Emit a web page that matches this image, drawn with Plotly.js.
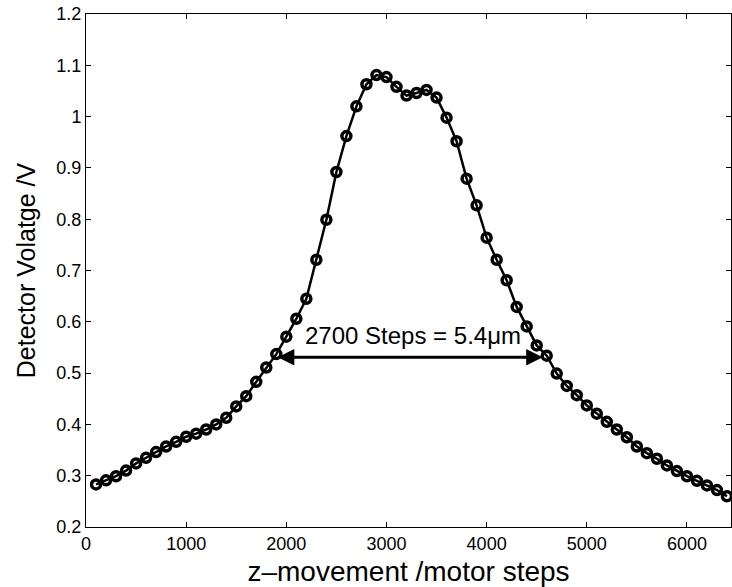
<!DOCTYPE html>
<html>
<head>
<meta charset="utf-8">
<script src="https://cdn.plot.ly/plotly-3.0.1.min.js"></script>
<style>html,body{margin:0;padding:0;background:#fff;}#chart{width:732px;height:587px;}</style>
</head>
<body>
<div id="chart"></div>
<script>
// z-movement (motor steps)
const zSteps = [100,200,300,400,500,600,700,800,900,1000,1100,1200,1300,1400,1500,1600,1700,1800,1900,2000,
  2100,2200,2300,2400,2500,2600,2700,2800,2900,3000,3100,3200,3300,3400,3500,3600,3700,3800,3900,4000,
  4100,4200,4300,4400,4500,4600,4700,4800,4900,5000,5100,5200,5300,5400,5500,5600,5700,5800,5900,6000,
  6100,6200,6300,6400];
// Detector voltage (V)
const voltage = [0.283,0.291,0.299,0.310,0.324,0.335,0.346,0.357,0.366,0.376,0.382,0.390,0.400,0.413,0.435,0.455,0.483,0.511,0.537,0.571,
  0.606,0.645,0.721,0.799,0.892,0.962,1.020,1.063,1.081,1.077,1.058,1.041,1.046,1.052,1.037,0.998,0.952,0.879,0.827,0.764,
  0.721,0.681,0.629,0.591,0.554,0.534,0.499,0.475,0.457,0.437,0.421,0.405,0.390,0.375,0.357,0.344,0.333,0.320,0.309,0.299,
  0.290,0.281,0.272,0.260];
const xTicks = [0,1000,2000,3000,4000,5000,6000];
const xTickText = ['0','1000','2000','3000','4000','5000','6000'];
const yTicks = [0.2,0.3,0.4,0.5,0.6,0.7,0.8,0.9,1.0,1.1,1.2];
const yTickText = ['0.2','0.3','0.4','0.5','0.6','0.7','0.8','0.9','1','1.1','1.2'];
const fwhmLabel = '2700 Steps = 5.4\u03bcm';

const FONT = 'Liberation Sans, Arial, Helvetica, sans-serif';
const trace = {
  x: zSteps, y: voltage, type: 'scatter', mode: 'lines+markers',
  line: {color: '#000', width: 2.5},
  marker: {symbol: 'circle-open', size: 9, color: '#000', line: {color: '#000', width: 3.5}},
  hoverinfo: 'skip'
};
const axisCommon = {
  showgrid: false, zeroline: false, showline: true, linecolor: '#000', linewidth: 1,
  mirror: 'allticks', ticks: 'inside', ticklen: 5, tickwidth: 1, tickcolor: '#000',
  tickfont: {family: FONT, size: 18, color: '#000'}
};
const layout = {
  width: 732, height: 587,
  margin: {l: 86, r: 1, t: 14, b: 60, pad: 0},
  paper_bgcolor: '#fff', plot_bgcolor: '#fff',
  showlegend: false,
  xaxis: Object.assign({}, axisCommon, {
    range: [0, 6440], tickmode: 'array', tickvals: xTicks, ticktext: xTickText,
    title: {text: 'z\u2013movement /motor steps', font: {family: FONT, size: 28, color: '#000'}, standoff: 8}
  }),
  yaxis: Object.assign({}, axisCommon, {
    range: [0.2, 1.2], tickmode: 'array', tickvals: yTicks, ticktext: yTickText,
    title: {text: 'Detector Volatge /V', font: {family: FONT, size: 25, color: '#000'}, standoff: 13}
  }),
  annotations: [
    {x: 4560, y: 0.531, ax: 1900, ay: 0.531, xref: 'x', yref: 'y', axref: 'x', ayref: 'y',
     text: '', showarrow: true, arrowhead: 2, arrowside: 'end+start', arrowsize: 1.1, arrowwidth: 3, arrowcolor: '#000', standoff: 0, startstandoff: 0},
    {x: 3260, y: 0.574, xref: 'x', yref: 'y', text: fwhmLabel, showarrow: false,
     font: {family: FONT, size: 24, color: '#000'}, bgcolor: 'rgba(255,255,255,0)'}
  ]
};
Plotly.newPlot('chart', [trace], layout, {staticPlot: true, displayModeBar: false});
</script>
</body>
</html>
